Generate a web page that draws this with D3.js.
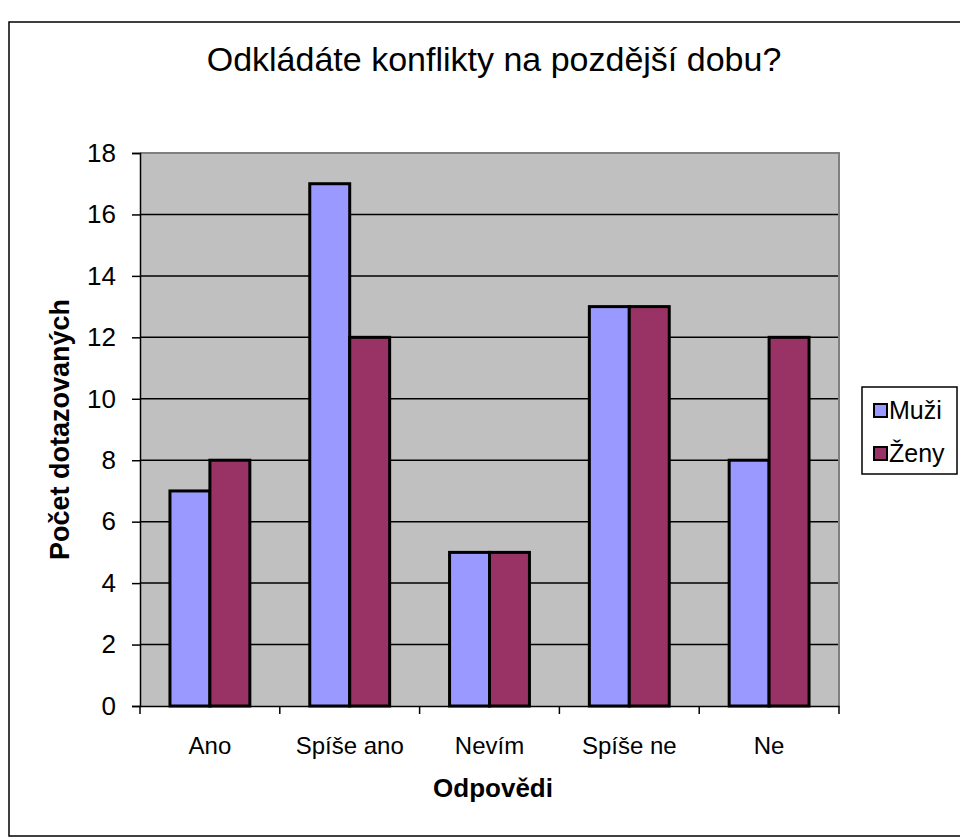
<!DOCTYPE html>
<html>
<head>
<meta charset="utf-8">
<script src="https://cdn.jsdelivr.net/npm/d3@7"></script>
<style>
  body { margin: 0; background: #fff; }
  text { font-family: "Liberation Sans", Arial, sans-serif; fill: #000; }
</style>
</head>
<body>
<svg width="960" height="837"></svg>
<script>
var categories = ["Ano", "Spíše ano", "Nevím", "Spíše ne", "Ne"];
var seriesNames = ["Muži", "Ženy"];
var muzi = [7, 17, 5, 13, 8];
var zeny = [8, 12, 5, 13, 12];
var yTicks = [0, 2, 4, 6, 8, 10, 12, 14, 16, 18];
var colors = ["#9999ff", "#993366"];

var svg = d3.select("svg");

// outer chart border
svg.append("rect")
    .attr("x", 9).attr("y", 22)
    .attr("width", 960).attr("height", 814)
    .attr("fill", "none").attr("stroke", "#000").attr("stroke-width", 1.5);

var plotL = 140, plotT = 153, plotR = 839, plotB = 706;

var x = d3.scaleBand().domain(categories).range([plotL, plotR]).paddingInner(0).paddingOuter(0);
var inner = d3.scaleBand().domain(seriesNames).range([0, x.bandwidth()]).paddingOuter(0.75).paddingInner(0);
var y = d3.scaleLinear().domain([0, 18]).range([plotB, plotT]);

svg.append("rect")
    .attr("x", plotL).attr("y", plotT)
    .attr("width", plotR - plotL).attr("height", plotB - plotT)
    .attr("fill", "#c0c0c0");

// gridlines
svg.append("g").selectAll("line")
    .data(yTicks.filter(d => d > 0 && d < 18))
    .enter().append("line")
    .attr("x1", plotL).attr("x2", plotR)
    .attr("y1", d => y(d)).attr("y2", d => y(d))
    .attr("stroke", "#000").attr("stroke-width", 1.5);

// plot border top/right gray
svg.append("path")
    .attr("d", "M" + plotL + "," + plotT + "H" + plotR + "V" + plotB)
    .attr("fill", "none").attr("stroke", "#808080").attr("stroke-width", 2);

var table = categories.map((c, i) => ({ cat: c, vals: [muzi[i], zeny[i]] }));

var groups = svg.append("g").selectAll("g")
    .data(table).enter().append("g")
    .attr("transform", d => "translate(" + x(d.cat) + ",0)");

groups.selectAll("rect")
    .data(d => d.vals.map((v, j) => ({ name: seriesNames[j], v: v, j: j })))
    .enter().append("rect")
    .attr("x", d => inner(d.name))
    .attr("width", inner.bandwidth())
    .attr("y", d => y(d.v))
    .attr("height", d => y(0) - y(d.v))
    .attr("fill", d => colors[d.j])
    .attr("stroke", "#000").attr("stroke-width", 3);

// y axis
var yAxis = svg.append("g")
    .attr("transform", "translate(" + plotL + ",0)")
    .call(d3.axisLeft(y).tickValues(yTicks).tickSize(8).tickPadding(16));
yAxis.selectAll("text").style("font-size", "26px");
yAxis.selectAll("line, path").attr("stroke", "#000").attr("stroke-width", 1.5);

// x axis
var xAxis = svg.append("g")
    .attr("transform", "translate(0," + plotB + ")")
    .call(d3.axisBottom(x).tickSize(0).tickPadding(31));
xAxis.selectAll("text").style("font-size", "24px");
xAxis.select(".domain").attr("stroke", "#000").attr("stroke-width", 1.5);

svg.append("g").selectAll("line")
    .data(categories.concat(["end"]))
    .enter().append("line")
    .attr("x1", (d, i) => i < categories.length ? x(d) : plotR)
    .attr("x2", (d, i) => i < categories.length ? x(d) : plotR)
    .attr("y1", plotB).attr("y2", plotB + 8)
    .attr("stroke", "#000").attr("stroke-width", 1.5);

// titles
svg.append("text")
    .attr("x", 494).attr("y", 71)
    .attr("text-anchor", "middle")
    .style("font-size", "34px")
    .text("Odkládáte konflikty na pozdější dobu?");

svg.append("text")
    .attr("x", 493).attr("y", 797)
    .attr("text-anchor", "middle")
    .style("font-size", "26px").style("font-weight", "bold")
    .text("Odpovědi");

svg.append("text")
    .attr("transform", "translate(69," + ((plotT + plotB) / 2) + ") rotate(-90)")
    .attr("text-anchor", "middle")
    .style("font-size", "27px").style("font-weight", "bold")
    .text("Počet dotazovaných");

// legend
var legend = svg.append("g");
legend.append("rect")
    .attr("x", 862).attr("y", 387).attr("width", 95).attr("height", 87)
    .attr("fill", "#fff").attr("stroke", "#000").attr("stroke-width", 1.5);

var items = legend.selectAll("g.item")
    .data(seriesNames).enter().append("g")
    .attr("class", "item")
    .attr("transform", (d, i) => "translate(874," + (410 + i * 43) + ")");
items.append("rect")
    .attr("x", 0).attr("y", -6).attr("width", 13).attr("height", 13)
    .attr("fill", (d, i) => colors[i]).attr("stroke", "#000").attr("stroke-width", 2);
items.append("text")
    .attr("x", 15).attr("y", 9)
    .style("font-size", "25px")
    .text(d => d);
</script>
</body>
</html>
